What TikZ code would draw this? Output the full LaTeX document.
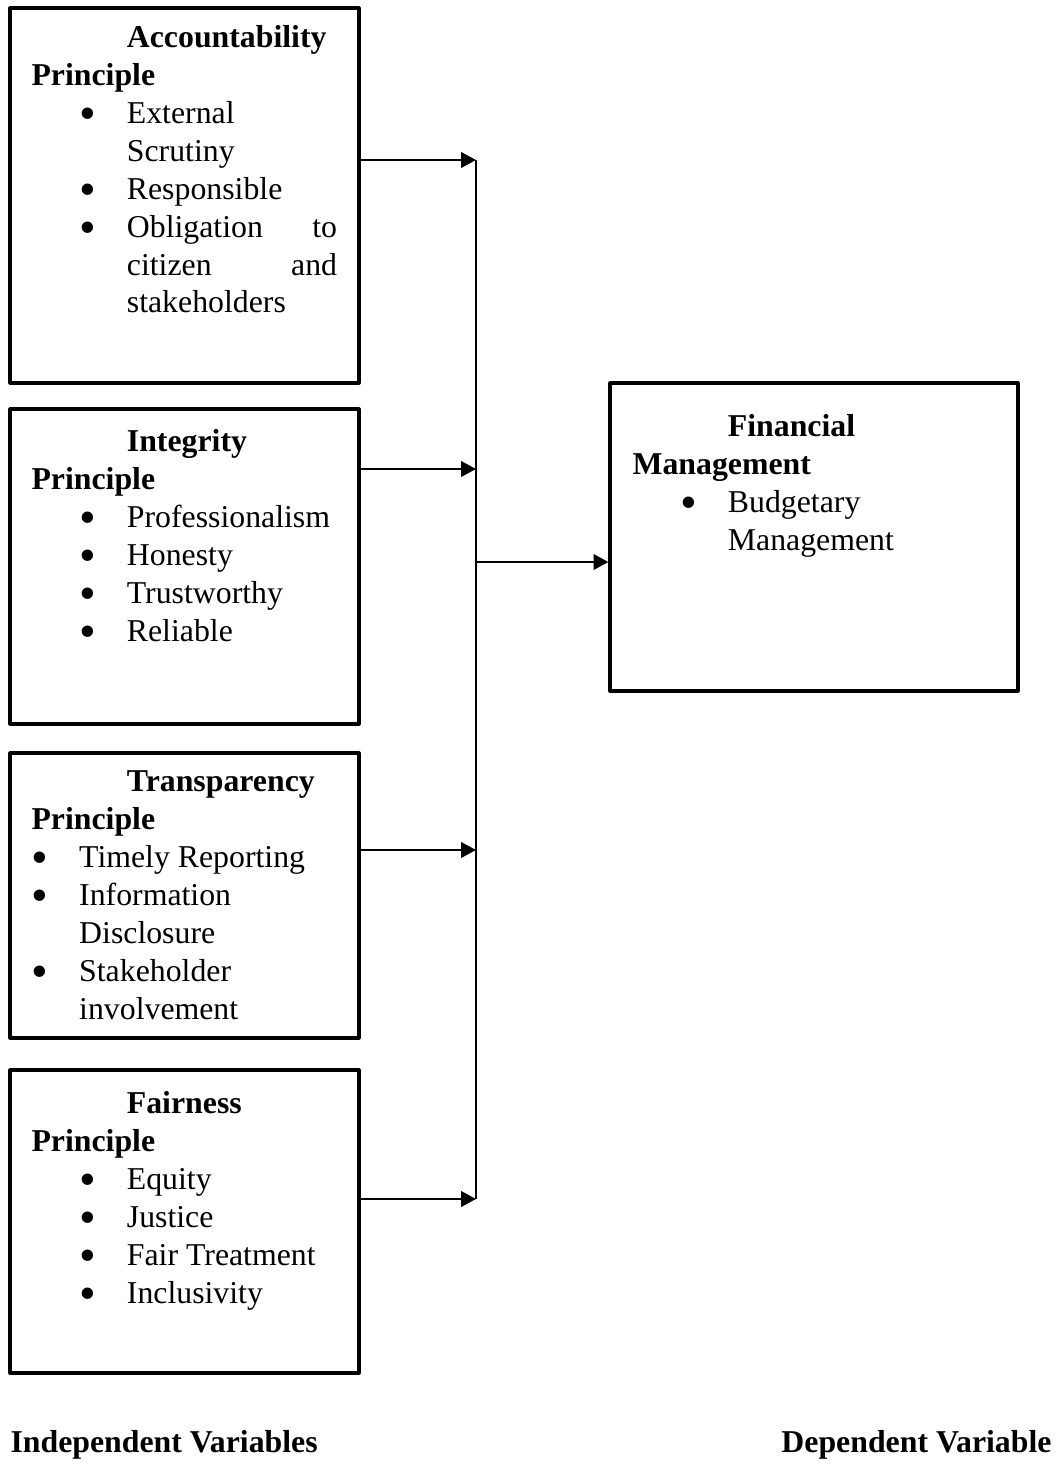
\documentclass[tikz,border=0pt]{standalone}
\usepackage{fontspec}
\setmainfont{Liberation Serif}
\usetikzlibrary{arrows.meta,fit}
% bullet line: #1 = indent of the bullet
\newcommand{\bul}[2]{\hspace*{#1}\makebox[18pt][l]{\smash{\raisebox{-2.4pt}{\scalebox{1.5}{\textbullet}}}}#2}
\newcommand{\cont}[1]{\hspace*{36pt}#1}
\begin{document}
\begin{tikzpicture}[x=0.3774pt,y=-0.3774pt,font=\fontsize{12}{14.3}\selectfont,line join=round,
	box/.style={draw,line width=1.2pt,inner sep=0pt,fit={#1}},
	txt/.style={anchor=base west,align=left,inner sep=0pt},
	arr/.style={-{Triangle[length=5.6pt,width=5.8pt]},line width=0.9pt}]
	\useasboundingbox (0,0) rectangle (1059,1464);
	\node[box={(10,8) (359,383)}] (acc) {};
	\node[box={(10,409) (359,724)}] (integ) {};
	\node[box={(10,753) (359,1038)}] (transp) {};
	\node[box={(10,1070) (359,1373)}] (fair) {};
	\node[box={(610,383) (1018,691)}] (fm) {};
	% text nodes sit on the baseline of their last line
	\node[txt] (acct) at (31,313) {\hspace*{36pt}\textbf{Accountability}\\\textbf{Principle}\\
		\bul{18pt}{External}\\\cont{Scrutiny}\\\bul{18pt}{Responsible}\\
		\bul{18pt}{\makebox[79.3pt][s]{Obligation\hfill to}}\\\cont{\makebox[79.3pt][s]{citizen\hfill and}}\\\cont{stakeholders}};
	\node[txt] (integt) at (31,641) {\hspace*{36pt}\textbf{Integrity}\\\textbf{Principle}\\
		\bul{18pt}{Professionalism}\\\bul{18pt}{Honesty}\\\bul{18pt}{Trustworthy}\\\bul{18pt}{Reliable}};
	\node[txt] (transpt) at (31,1019) {\hspace*{36pt}\textbf{Transparency}\\\textbf{Principle}\\
		\bul{0pt}{Timely Reporting}\\\bul{0pt}{Information}\\\hspace*{18pt}Disclosure\\
		\bul{0pt}{Stakeholder}\\\hspace*{18pt}involvement};
	\node[txt] (fairt) at (31,1303) {\hspace*{36pt}\textbf{Fairness}\\\textbf{Principle}\\
		\bul{18pt}{Equity}\\\bul{18pt}{Justice}\\\bul{18pt}{Fair Treatment}\\\bul{18pt}{Inclusivity}};
	\node[txt] (fmt) at (632,550) {\hspace*{36pt}\textbf{Financial}\\\textbf{Management}\\
		\bul{18pt}{Budgetary}\\\cont{Management}};
	% joints on the bus
	\coordinate (j1) at (476,160);
	\coordinate (j2) at (476,469);
	\coordinate (j3) at (476,850);
	\coordinate (j4) at (476,1199);
	\coordinate (j0) at (476,562);
	\draw[line width=0.5pt] (j1) -- (j4);
	\draw[arr] (acc.east |- j1) -- (j1);
	\draw[arr] (integ.east |- j2) -- (j2);
	\draw[arr] (transp.east |- j3) -- (j3);
	\draw[arr] (fair.east |- j4) -- (j4);
	\draw[arr] (j0) -- (fm.west |- j0);
	\node[txt] (indep) at (10,1452) {\textbf{Independent Variables}};
	\node[anchor=base east,inner sep=0pt] (dep) at (1052,1452) {\textbf{Dependent Variable}};
\end{tikzpicture}
\end{document}
